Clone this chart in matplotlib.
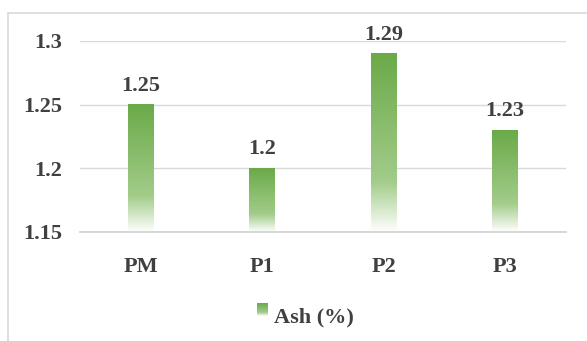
import matplotlib.pyplot as plt
import numpy as np
from matplotlib.colors import LinearSegmentedColormap
from matplotlib.patches import Rectangle

categories = ['PM', 'P1', 'P2', 'P3']
ash = [1.25, 1.2, 1.29, 1.23]
series_name = 'Ash (%)'
yticks = [1.15, 1.2, 1.25, 1.3]

plt.rcParams['font.family'] = ['Liberation Serif', 'DejaVu Serif']
text_col = '#404040'

green = LinearSegmentedColormap.from_list(
    'grad', [(0.0, '#6aaa48'), (0.72, '#a3cc8a'), (1.0, '#ffffff')])
grad = np.linspace(0, 1, 256).reshape(-1, 1)

fig = plt.figure(figsize=(5.87, 3.41), dpi=100)
ax = fig.add_axes([0.136, 0.320, 0.828, 0.560])

x = np.arange(len(categories))
w = 0.21
base = yticks[0]
for xi, v in zip(x, ash):
    ax.imshow(grad, cmap=green, aspect='auto', interpolation='bilinear',
              extent=[xi - w / 2, xi + w / 2, base, v], zorder=2)
    ax.text(xi, v + 0.007, f'{v:g}', ha='center', va='bottom',
            fontsize=16, fontweight='bold', color=text_col)

ax.set_xlim(-0.5, len(categories) - 0.5)
ax.set_ylim(base, 1.3)
ax.set_yticks(yticks)
ax.set_yticklabels([f'{t:g}' for t in yticks])
ax.set_xticks(x)
ax.set_xticklabels(categories)
ax.grid(axis='y', color='#d9d9d9', linewidth=1)
ax.set_axisbelow(True)
for s in ['top', 'right', 'left']:
    ax.spines[s].set_visible(False)
ax.spines['bottom'].set_color('#d0d0d0')
ax.spines['bottom'].set_linewidth(1.2)
ax.tick_params(length=0, labelsize=16, colors=text_col)
ax.tick_params(axis='x', pad=18)
ax.tick_params(axis='y', pad=13)
for lab in ax.get_xticklabels() + ax.get_yticklabels():
    lab.set_fontweight('bold')

# legend swatch and label
lax = fig.add_axes([257 / 587, 1 - 316 / 341, 11 / 587, 13 / 341])
lax.imshow(grad, cmap=green, aspect='auto', interpolation='bilinear')
lax.axis('off')
fig.text(274 / 587, 1 - 317 / 341, series_name, ha='left', va='center',
         fontsize=16, fontweight='bold', color=text_col)

# chart area border
fig.patches.append(Rectangle((8 / 587, -0.1), 1.2, 0.962 + 0.1,
                             transform=fig.transFigure, fill=False,
                             edgecolor='#d9d9d9', linewidth=1.2))

fig.savefig('out.png', dpi=100)
